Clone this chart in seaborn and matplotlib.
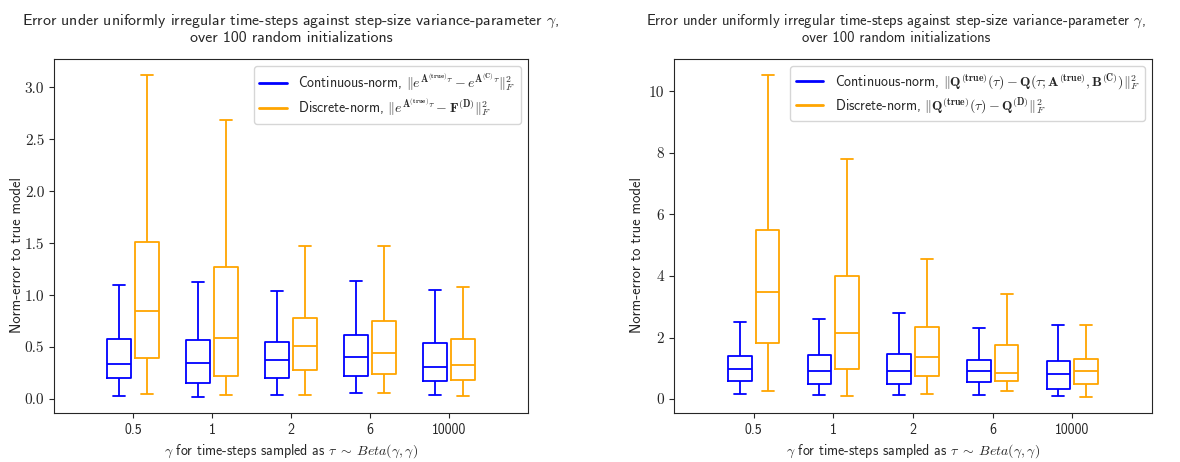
import pandas as pd
import seaborn as sns
import matplotlib.pyplot as plt
from matplotlib.lines import Line2D

# --- dati: per ogni gruppo [min, q1, mediana, q3, max] ---
GAMMAS = ['0.5', '1', '2', '6', '10000']
NORMS = ['Continuous', 'Discrete']

# pannello sinistro (matrice di transizione)
LEFT_CONT = [
    [0.030, 0.204, 0.341, 0.579, 1.094],
    [0.021, 0.156, 0.344, 0.565, 1.127],
    [0.037, 0.204, 0.373, 0.550, 1.043],
    [0.060, 0.223, 0.402, 0.620, 1.133],
    [0.043, 0.178, 0.310, 0.537, 1.053],
]
LEFT_DISC = [
    [0.046, 0.392, 0.844, 1.508, 3.117],
    [0.037, 0.226, 0.588, 1.271, 2.681],
    [0.037, 0.284, 0.514, 0.777, 1.476],
    [0.060, 0.245, 0.447, 0.748, 1.476],
    [0.034, 0.185, 0.332, 0.579, 1.075],
]

# pannello destro (covarianza Q)
RIGHT_CONT = [
    [0.17, 0.59, 0.97, 1.41, 2.50],
    [0.13, 0.49, 0.92, 1.42, 2.61],
    [0.13, 0.49, 0.90, 1.45, 2.79],
    [0.12, 0.55, 0.92, 1.27, 2.32],
    [0.10, 0.34, 0.82, 1.24, 2.40],
]
RIGHT_DISC = [
    [0.26, 1.83, 3.47, 5.48, 10.53],
    [0.09, 0.99, 2.16, 4.01, 7.81],
    [0.17, 0.76, 1.37, 2.35, 4.55],
    [0.25, 0.58, 0.86, 1.75, 3.40],
    [0.07, 0.49, 0.90, 1.30, 2.40],
]

LEFT_LABELS = [
    r"Continuous-norm, $\Vert e^{\mathbf{A}^{(\mathbf{true})}\tau} - e^{\mathbf{A}^{(\mathbf{C})}\tau}\Vert_F^2$",
    r"Discrete-norm, $\Vert e^{\mathbf{A}^{(\mathbf{true})}\tau} - \mathbf{F}^{(\mathbf{D})}\Vert_F^2$",
]
RIGHT_LABELS = [
    r"Continuous-norm, $\Vert\mathbf{Q}^{(\mathbf{true})}(\tau) - \mathbf{Q}(\tau;\mathbf{A}^{(\mathbf{true})},\mathbf{B}^{(\mathbf{C})})\Vert_F^2$",
    r"Discrete-norm, $\Vert\mathbf{Q}^{(\mathbf{true})}(\tau) - \mathbf{Q}^{(\mathbf{D})}\Vert_F^2$",
]

TITLE = ("Error under uniformly irregular time-steps against step-size variance-parameter $\\gamma$,\n"
         "over 100 random initializations")
XLABEL = r"$\gamma$ for time-steps sampled as $\tau \;\sim\; \mathit{Beta}(\gamma, \gamma)$"
YLABEL = "Norm-error to true model"

COLORS = {'Continuous': 'blue', 'Discrete': 'orange'}


def build_df(cont, disc):
    rows = []
    for g, c, d in zip(GAMMAS, cont, disc):
        for v in c:
            rows.append({'gamma': g, 'norm': 'Continuous', 'value': v})
        for v in d:
            rows.append({'gamma': g, 'norm': 'Discrete', 'value': v})
    return pd.DataFrame(rows)


def draw_panel(ax, df, labels, yticks, title_x, title_size):
    sns.boxplot(data=df, x='gamma', y='value', hue='norm', order=GAMMAS,
                hue_order=NORMS, palette=COLORS, fill=False, whis=(0, 100),
                width=0.7, gap=0.15, linewidth=1.3, legend=False, ax=ax)
    ax.set_xlim(-1, 5)
    ax.set_yticks(yticks)
    ax.set_xlabel(XLABEL, fontsize=10)
    ax.set_ylabel(YLABEL, fontsize=10.6)
    ax.yaxis.set_label_coords(-0.063, 0.446)
    ax.set_title(TITLE, fontsize=title_size, pad=12, x=title_x, linespacing=1.15)
    ax.tick_params(axis='x', labelsize=10)
    ax.tick_params(axis='y', labelsize=11)
    # numeri dell'asse y in serif (come nel LaTeX originale)
    for lbl in ax.get_yticklabels():
        lbl.set_fontfamily('cmr10')
    handles = [Line2D([], [], color=COLORS[n], lw=2) for n in NORMS]
    ax.legend(handles, labels, loc='upper right', fontsize=10, labelspacing=0.2)
    for s in ax.spines.values():
        s.set_visible(True)


sns.set_style('ticks')
plt.rcParams['font.family'] = ['cmss10', 'DejaVu Sans']
plt.rcParams['mathtext.fontset'] = 'cm'
plt.rcParams['axes.unicode_minus'] = False

fig = plt.figure(figsize=(11.8, 4.62), dpi=100)
ax1 = fig.add_axes([54 / 1180, 1 - 413 / 462, 474 / 1180, 354 / 462])
ax2 = fig.add_axes([674 / 1180, 1 - 413 / 462, 478 / 1180, 354 / 462])

draw_panel(ax1, build_df(LEFT_CONT, LEFT_DISC), LEFT_LABELS,
           [0, 0.5, 1.0, 1.5, 2.0, 2.5, 3.0], 0.5, 11.4)
draw_panel(ax2, build_df(RIGHT_CONT, RIGHT_DISC), RIGHT_LABELS,
           [0, 2, 4, 6, 8, 10], 0.464, 10.6)

fig.savefig('out.png', dpi=100)
